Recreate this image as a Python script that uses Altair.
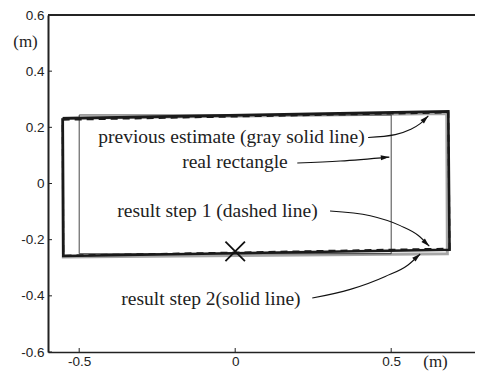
import altair as alt
import pandas as pd
import numpy as np

# rectangles (closed polygons)
real_x = [-0.5, 0.5, 0.5, -0.5, -0.5]
real_y = [0.244, 0.244, -0.25, -0.25, 0.244]
prev_x = [-0.553, 0.678, 0.680, -0.551, -0.553]
prev_y = [0.232, 0.249, -0.250, -0.262, 0.232]
step1_x = [-0.553, 0.683, 0.687, -0.551, -0.553]
step1_y = [0.227, 0.253, -0.232, -0.257, 0.227]
step2_x = [-0.553, 0.683, 0.687, -0.551, -0.553]
step2_y = [0.232, 0.257, -0.236, -0.258, 0.232]

# marker
cross_x = [0.0]
cross_y = [-0.242]

# annotation texts
labels = ["previous estimate (gray solid line)", "real rectangle",
          "result step 1 (dashed line)", "result step 2(solid line)"]
label_x = [-0.439, -0.170, -0.378, -0.365]
label_y = [0.167, 0.077, -0.098, -0.412]

# annotation arrows
arrows = {
    "a1": ([0.426, 0.513, 0.561, 0.593, 0.619], [0.164, 0.174, 0.192, 0.213, 0.241]),
    "a2": ([0.199, 0.337, 0.494], [0.073, 0.080, 0.094]),
    "a3": ([0.304, 0.433, 0.529, 0.587, 0.622], [-0.098, -0.115, -0.150, -0.185, -0.223]),
    "a4": ([0.247, 0.369, 0.481, 0.554, 0.593], [-0.408, -0.377, -0.331, -0.290, -0.251]),
}

y_ticks = [-0.6, -0.4, -0.2, 0.0, 0.2, 0.4, 0.6]
x_ticks = [-0.5, 0.0, 0.5]

W, H = 427, 337
XDOM = [-0.6, -0.6 + W / 312.0]
YDOM = [-0.6, 0.6]

lab_expr = ("datum.value == 0 ? '0' : (datum.value < 0 ? '-' + format(-datum.value, '.1f') "
            ": format(datum.value, '.1f'))")

xs = alt.Scale(domain=XDOM, nice=False, zero=False)
ys = alt.Scale(domain=YDOM, nice=False, zero=False)

x_axis = alt.Axis(values=x_ticks, labelExpr=lab_expr, ticks=False, grid=False,
                  domainColor="#222", domainWidth=1.5, labelFont="Liberation Sans",
                  labelFontSize=13.5, labelColor="#222", labelPadding=2,
                  title="(m)", titleFont="Liberation Serif", titleFontSize=17,
                  titleFontWeight="normal", titleX=387, titleY=9, titleBaseline="middle",
                  titleAlign="center", titleColor="#222")
y_axis = alt.Axis(values=y_ticks, labelExpr=lab_expr, ticks=False, grid=False,
                  domainColor="#222", domainWidth=2, labelFont="Liberation Sans",
                  labelFontSize=13.5, labelColor="#222", labelPadding=4,
                  title="(m)", titleFont="Liberation Serif", titleFontSize=17,
                  titleFontWeight="normal", titleAngle=0, titleX=-23, titleY=26,
                  titleBaseline="middle", titleAlign="center", titleColor="#222")

XE = lambda: alt.X("x:Q", scale=xs, axis=x_axis)
YE = lambda: alt.Y("y:Q", scale=ys, axis=y_axis)


def poly(xv, yv):
    return pd.DataFrame({"x": xv, "y": yv, "i": list(range(len(xv)))})


def enc(ch):
    return ch.encode(x=XE(), y=YE())


layers = []

layers.append(enc(alt.Chart(poly(prev_x, prev_y)).mark_line(color="#a6a6a6", strokeWidth=3, clip=True)).encode(order="i:Q"))
layers.append(enc(alt.Chart(poly(real_x, real_y)).mark_line(color="#333", strokeWidth=0.9, clip=True)).encode(order="i:Q"))
layers.append(enc(alt.Chart(poly(step2_x, step2_y)).mark_line(color="#1a1a1a", strokeWidth=2.6, clip=True)).encode(order="i:Q"))
layers.append(enc(alt.Chart(poly(step1_x, step1_y)).mark_line(color="#1a1a1a", strokeWidth=2, strokeDash=[7, 5], clip=True)).encode(order="i:Q"))

layers.append(enc(alt.Chart(pd.DataFrame({"x": cross_x, "y": cross_y})).mark_point(
    shape="M-1,-1L1,1M-1,1L1,-1", filled=False, stroke="#111", strokeWidth=1.8, size=380, opacity=1)))

# arrows
for k, (ax_, ay_) in arrows.items():
    d = pd.DataFrame({"x": ax_, "y": ay_, "i": list(range(len(ax_)))})
    layers.append(enc(alt.Chart(d).mark_line(color="#111", strokeWidth=1.1, interpolate="monotone")).encode(order="i:Q"))
    dx = (ax_[-1] - ax_[-2]) * 312.0
    dy = (ay_[-1] - ay_[-2]) * (H / 1.2)
    ang = float(np.degrees(np.arctan2(dx, dy))) % 360
    hd = pd.DataFrame({"x": [ax_[-1]], "y": [ay_[-1]]})
    layers.append(enc(alt.Chart(hd).mark_point(
        shape="M0,0L-0.5,1.7L0.5,1.7Z", filled=True, color="#111", size=100, opacity=1,
        angle=ang)))

# texts
tdf = pd.DataFrame({"x": label_x, "y": label_y, "t": labels})
layers.append(enc(alt.Chart(tdf).mark_text(align="left", baseline="middle", font="Liberation Serif",
                                           fontSize=19.5, color="#222")).encode(text="t:N"))

# inward ticks
yt = pd.DataFrame({"y": y_ticks})
xt = pd.DataFrame({"x": x_ticks})
layers.append(alt.Chart(yt).mark_rule(color="#222", strokeWidth=1).encode(
    y=YE(), x=alt.value(0), x2=alt.value(4)))
layers.append(alt.Chart(xt).mark_rule(color="#222", strokeWidth=1).encode(
    x=XE(), y=alt.value(H), y2=alt.value(H - 4)))
# top frame line
layers.append(alt.Chart(xt).mark_rule(color="#222", strokeWidth=1.5).encode(
    x=alt.value(0), x2=alt.value(W), y=alt.value(0)))

chart = alt.layer(*layers).properties(
    width=W, height=H,
    autosize=alt.AutoSizeParams(type="none"),
    padding={"left": 40, "top": 7, "right": 0, "bottom": 19},
    background="white",
).configure_view(stroke=None)

chart.save("out.html", embed_options={"renderer": "svg", "actions": False})
